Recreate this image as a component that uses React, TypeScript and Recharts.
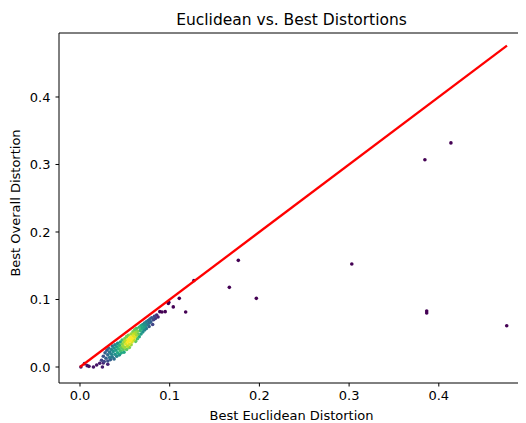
import React from "react";
import { ScatterChart, Scatter, XAxis, YAxis, ReferenceLine } from "recharts";

// [bestEuclidean, bestOverall, density]
const clusterLow: [number, number, number][] = [
  [0.024, 0.010, 0.2], [0.026, 0.016, 0.25], [0.027, 0.008, 0.2], [0.028, 0.021, 0.3],
  [0.029, 0.013, 0.3], [0.030, 0.025, 0.3], [0.031, 0.009, 0.25], [0.031, 0.018, 0.35],
  [0.032, 0.028, 0.35], [0.033, 0.014, 0.4], [0.033, 0.022, 0.4], [0.034, 0.011, 0.3],
  [0.035, 0.026, 0.45], [0.035, 0.019, 0.45], [0.036, 0.031, 0.4], [0.036, 0.015, 0.4],
  [0.037, 0.023, 0.5], [0.038, 0.028, 0.5], [0.038, 0.012, 0.35], [0.039, 0.019, 0.5],
  [0.039, 0.033, 0.45], [0.040, 0.025, 0.55], [0.041, 0.016, 0.45], [0.041, 0.030, 0.55],
  [0.042, 0.021, 0.6], [0.042, 0.035, 0.5],
];

const clusterMid: [number, number, number][] = [
  [0.043, 0.027, 0.65], [0.044, 0.018, 0.5], [0.044, 0.032, 0.65], [0.045, 0.024, 0.7],
  [0.045, 0.037, 0.6], [0.046, 0.029, 0.75], [0.046, 0.021, 0.6], [0.047, 0.034, 0.8],
  [0.047, 0.040, 0.7], [0.048, 0.026, 0.75], [0.048, 0.031, 0.85], [0.049, 0.037, 0.85],
  [0.049, 0.022, 0.6], [0.050, 0.042, 0.8], [0.050, 0.029, 0.85], [0.051, 0.034, 0.95],
  [0.051, 0.039, 0.9], [0.052, 0.026, 0.75], [0.052, 0.045, 0.8], [0.053, 0.031, 0.9],
  [0.053, 0.037, 1.0], [0.054, 0.041, 1.0], [0.054, 0.047, 0.8], [0.055, 0.034, 0.95],
  [0.055, 0.029, 0.8], [0.056, 0.039, 1.0], [0.056, 0.044, 1.0], [0.057, 0.049, 0.85],
  [0.057, 0.033, 0.85], [0.058, 0.037, 0.95], [0.058, 0.042, 1.0], [0.059, 0.046, 0.95],
  [0.059, 0.052, 0.8], [0.060, 0.040, 0.9], [0.060, 0.049, 0.9], [0.061, 0.044, 0.95],
  [0.061, 0.055, 0.75], [0.062, 0.038, 0.75], [0.062, 0.051, 0.85], [0.063, 0.047, 0.85],
  [0.063, 0.057, 0.7], [0.064, 0.042, 0.7], [0.064, 0.053, 0.8], [0.065, 0.049, 0.75],
  [0.066, 0.059, 0.65], [0.066, 0.045, 0.6],
];

const clusterHigh: [number, number, number][] = [
  [0.067, 0.054, 0.65], [0.068, 0.061, 0.6], [0.068, 0.049, 0.55], [0.069, 0.057, 0.6],
  [0.070, 0.063, 0.5], [0.070, 0.052, 0.5], [0.071, 0.059, 0.55], [0.072, 0.065, 0.45],
  [0.072, 0.055, 0.45], [0.073, 0.061, 0.5], [0.074, 0.067, 0.4], [0.074, 0.057, 0.4],
  [0.075, 0.063, 0.4], [0.076, 0.069, 0.35], [0.077, 0.060, 0.3], [0.077, 0.065, 0.35],
  [0.078, 0.071, 0.3], [0.079, 0.067, 0.3], [0.080, 0.073, 0.25], [0.081, 0.063, 0.2],
  [0.082, 0.070, 0.2], [0.083, 0.075, 0.2], [0.084, 0.072, 0.15], [0.0855, 0.077, 0.12],
  [0.087, 0.074, 0.1],
];

const sparsePoints: [number, number, number][] = [
  [0.001, 0.000, 0.05], [0.005, 0.005, 0.05], [0.008, 0.002, 0.05], [0.010, 0.001, 0.05],
  [0.015, 0.000, 0.05], [0.0186, 0.003, 0.05], [0.022, 0.0055, 0.08], [0.025, 0.000, 0.08],
  [0.026, 0.006, 0.1], [0.031, 0.004, 0.1],
];

const outlierPoints: [number, number, number][] = [
  [0.089, 0.082, 0], [0.0914, 0.0815, 0], [0.095, 0.082, 0], [0.0985, 0.094, 0],
  [0.099, 0.096, 0], [0.104, 0.089, 0], [0.1107, 0.1017, 0], [0.1178, 0.0815, 0],
  [0.127, 0.128, 0], [0.1665, 0.118, 0], [0.1765, 0.158, 0], [0.1966, 0.1017, 0],
  [0.303, 0.1526, 0], [0.3865, 0.083, 0], [0.3865, 0.080, 0], [0.3845, 0.307, 0],
  [0.4135, 0.332, 0], [0.4757, 0.0612, 0],
];

const diagonalEnds: number[] = [0, 0.476];
const xTicks: number[] = [0, 0.1, 0.2, 0.3, 0.4];
const yTicks: number[] = [0, 0.1, 0.2, 0.3, 0.4];

const XMIN = -0.0234;
const XMAX = 0.4972;
const YMIN = -0.0237;
const YMAX = 0.4948;

const VIRIDIS = [
  "#440154", "#482475", "#414487", "#355f8d", "#2a788e", "#21918c",
  "#22a884", "#44bf70", "#7ad151", "#bddf26", "#fde725",
];

function hexToRgb(h: string) {
  return [parseInt(h.slice(1, 3), 16), parseInt(h.slice(3, 5), 16), parseInt(h.slice(5, 7), 16)];
}
function viridis(t: number) {
  const v = Math.max(0, Math.min(1, t)) * (VIRIDIS.length - 1);
  const i = Math.min(Math.floor(v), VIRIDIS.length - 2);
  const f = v - i;
  const a = hexToRgb(VIRIDIS[i]);
  const b = hexToRgb(VIRIDIS[i + 1]);
  const c = a.map((x, k) => Math.round(x + (b[k] - x) * f));
  return `rgb(${c[0]},${c[1]},${c[2]})`;
}

const points = [...outlierPoints, ...sparsePoints, ...clusterLow, ...clusterMid, ...clusterHigh]
  .map(([x, y, d]) => ({ x, y, d }))
  .sort((a, b) => a.d - b.d);
const diagonal = diagonalEnds.map((v) => ({ x: v, y: v }));

const FONT = "'DejaVu Sans', sans-serif";

const Dot = (props: any) => (
  <circle cx={props.cx} cy={props.cy} r={1.8} fill={viridis(props.payload.d)} />
);

export default function App() {
  return (
    <div style={{ position: "relative", width: 518, height: 415, fontFamily: FONT }}>
      <ScatterChart width={518} height={415} margin={{ top: 25, right: 0, bottom: 0, left: 0 }}>
        <XAxis
          type="number"
          dataKey="x"
          domain={[XMIN, XMAX]}
          allowDataOverflow
          ticks={xTicks}
          tickFormatter={(v: number) => v.toFixed(1)}
          height={40}
          tickSize={3.5}
          tickMargin={4}
          axisLine={{ stroke: "#000", strokeWidth: 1 }}
          tickLine={{ stroke: "#000", strokeWidth: 1 }}
          tick={{ fill: "#000", fontSize: 13, fontFamily: FONT }}
        />
        <YAxis
          type="number"
          dataKey="y"
          domain={[YMIN, YMAX]}
          allowDataOverflow
          ticks={yTicks}
          tickFormatter={(v: number) => v.toFixed(1)}
          width={51}
          tickSize={3.5}
          tickMargin={5}
          axisLine={{ stroke: "#000", strokeWidth: 1 }}
          tickLine={{ stroke: "#000", strokeWidth: 1 }}
          tick={{ fill: "#000", fontSize: 13, fontFamily: FONT }}
        />
        <ReferenceLine y={YMAX} stroke="#000" strokeWidth={1} ifOverflow="visible" />
        <Scatter data={points} shape={Dot} isAnimationActive={false} />
        <Scatter
          data={diagonal}
          line={{ stroke: "#ff0000", strokeWidth: 2.3 }}
          shape={() => <g />}
          isAnimationActive={false}
        />
      </ScatterChart>
      <div
        style={{
          position: "absolute", left: 283.5, top: 2.5, transform: "translateX(-50%)",
          fontSize: 15.5, lineHeight: "18px", whiteSpace: "nowrap", color: "#000",
        }}
      >
        Euclidean vs. Best Distortions
      </div>
      <div
        style={{
          position: "absolute", left: 283.5, top: 399.5, transform: "translateX(-50%)",
          fontSize: 13, lineHeight: "15px", whiteSpace: "nowrap", color: "#000",
        }}
      >
        Best Euclidean Distortion
      </div>
      <div
        style={{
          position: "absolute", left: 7, top: 195, transform: "translate(-50%, -50%) rotate(-90deg)",
          fontSize: 13, lineHeight: "15px", whiteSpace: "nowrap", color: "#000",
        }}
      >
        Best Overall Distortion
      </div>
    </div>
  );
}
